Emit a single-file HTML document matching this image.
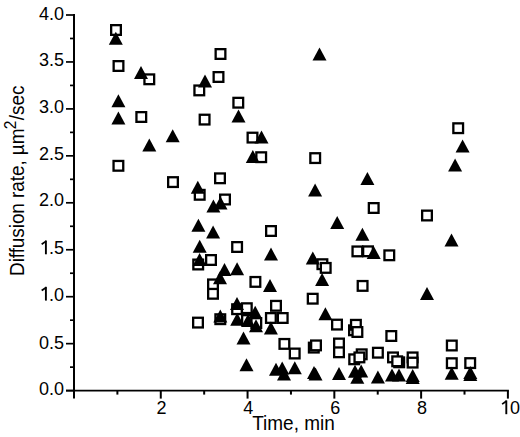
<!DOCTYPE html>
<html><head><meta charset="utf-8"><title>Diffusion rate vs time</title>
<style>
html,body{margin:0;padding:0;background:#fff;}
body{width:520px;height:437px;overflow:hidden;}
svg{display:block;}
text{font-family:"Liberation Sans",sans-serif;font-size:18px;fill:#000;}
.ax{stroke:#000;stroke-width:2.0;fill:none;stroke-linecap:butt;}
.ah{stroke:#000;stroke-width:1.7;fill:none;stroke-linecap:butt;}
.s{fill:#fff;stroke:#000;stroke-width:2.3;}
</style></head>
<body>
<svg width="520" height="437" viewBox="0 0 520 437">
<rect width="520" height="437" fill="#fff"/>
<g>
<path d="M74.0 14.10V398.60" class="ax"/>
<path d="M66.0 390.6H508.90" class="ah"/>
<path d="M66.00 15.00H74.0" class="ah"/>
<path d="M70.00 38.48H74.0" class="ah"/>
<path d="M66.00 61.95H74.0" class="ah"/>
<path d="M70.00 85.43H74.0" class="ah"/>
<path d="M66.00 108.90H74.0" class="ah"/>
<path d="M70.00 132.38H74.0" class="ah"/>
<path d="M66.00 155.85H74.0" class="ah"/>
<path d="M70.00 179.33H74.0" class="ah"/>
<path d="M66.00 202.80H74.0" class="ah"/>
<path d="M70.00 226.28H74.0" class="ah"/>
<path d="M66.00 249.75H74.0" class="ah"/>
<path d="M70.00 273.23H74.0" class="ah"/>
<path d="M66.00 296.70H74.0" class="ah"/>
<path d="M70.00 320.18H74.0" class="ah"/>
<path d="M66.00 343.65H74.0" class="ah"/>
<path d="M70.00 367.13H74.0" class="ah"/>
<path d="M66.00 390.60H74.0" class="ah"/>
<path d="M117.39 390.6V394.60" class="ax"/>
<path d="M160.78 390.6V398.60" class="ax"/>
<path d="M204.17 390.6V394.60" class="ax"/>
<path d="M247.56 390.6V398.60" class="ax"/>
<path d="M290.95 390.6V394.60" class="ax"/>
<path d="M334.34 390.6V398.60" class="ax"/>
<path d="M377.73 390.6V394.60" class="ax"/>
<path d="M421.12 390.6V398.60" class="ax"/>
<path d="M464.51 390.6V394.60" class="ax"/>
<path d="M507.90 390.6V398.60" class="ax"/>
</g>
<g>
<text transform="translate(64.00 20.20) scale(1 1.06)" text-anchor="end">4.0</text>
<text transform="translate(64.00 65.80) scale(1 1.06)" text-anchor="end">3.5</text>
<text transform="translate(64.00 112.60) scale(1 1.06)" text-anchor="end">3.0</text>
<text transform="translate(64.00 159.60) scale(1 1.06)" text-anchor="end">2.5</text>
<text transform="translate(64.00 206.30) scale(1 1.06)" text-anchor="end">2.0</text>
<text transform="translate(64.00 254.30) scale(1 1.06)" text-anchor="end">.5</text>
<path d="M44.95 240.52H46.85V254.30H44.95Z"/><path d="M46.20 241.12L41.70 244.22" stroke="#000" stroke-width="1.75" fill="none"/>
<text transform="translate(64.00 300.60) scale(1 1.06)" text-anchor="end">.0</text>
<path d="M44.95 286.82H46.85V300.60H44.95Z"/><path d="M46.20 287.42L41.70 290.52" stroke="#000" stroke-width="1.75" fill="none"/>
<text transform="translate(64.00 348.90) scale(1 1.06)" text-anchor="end">0.5</text>
<text transform="translate(64.00 394.90) scale(1 1.06)" text-anchor="end">0.0</text>
<text transform="translate(161.58 414.20) scale(1 1.06)" text-anchor="middle">2</text>
<text transform="translate(248.36 414.20) scale(1 1.06)" text-anchor="middle">4</text>
<text transform="translate(335.14 414.20) scale(1 1.06)" text-anchor="middle">6</text>
<text transform="translate(421.92 414.20) scale(1 1.06)" text-anchor="middle">8</text>
<text transform="translate(509.90 414.20) scale(1 1.06)" text-anchor="start">0</text>
<path d="M505.35 400.42H507.25V414.20H505.35Z"/><path d="M506.60 401.02L502.10 404.12" stroke="#000" stroke-width="1.75" fill="none"/>
<text transform="translate(293.50 429.80) scale(1 1.06)" text-anchor="middle" style="font-size:19px">Time, min</text>
<text transform="translate(24.3 180.7) rotate(-90) scale(1 1.06)" text-anchor="middle" style="font-size:19px"><tspan style="letter-spacing:-0.08px">Diffusion rate, &#181;m</tspan><tspan dy="-7.7" dx="-0.7" style="font-size:15.5px">2</tspan><tspan dy="7.7" dx="0.4">/sec</tspan></text>
</g>
<g fill="#000">
<rect x="111.15" y="25.15" width="9.7" height="9.7" class="s"/>
<rect x="113.65" y="61.15" width="9.7" height="9.7" class="s"/>
<rect x="144.45" y="74.45" width="9.7" height="9.7" class="s"/>
<rect x="136.45" y="112.15" width="9.7" height="9.7" class="s"/>
<rect x="113.55" y="160.95" width="9.7" height="9.7" class="s"/>
<rect x="168.15" y="177.25" width="9.7" height="9.7" class="s"/>
<rect x="215.65" y="49.15" width="9.7" height="9.7" class="s"/>
<rect x="213.65" y="72.15" width="9.7" height="9.7" class="s"/>
<rect x="194.45" y="85.55" width="9.7" height="9.7" class="s"/>
<rect x="233.45" y="97.85" width="9.7" height="9.7" class="s"/>
<rect x="199.75" y="114.75" width="9.7" height="9.7" class="s"/>
<rect x="247.65" y="132.75" width="9.7" height="9.7" class="s"/>
<rect x="256.35" y="152.35" width="9.7" height="9.7" class="s"/>
<rect x="215.15" y="173.45" width="9.7" height="9.7" class="s"/>
<rect x="194.85" y="189.95" width="9.7" height="9.7" class="s"/>
<rect x="220.15" y="194.65" width="9.7" height="9.7" class="s"/>
<rect x="232.25" y="242.15" width="9.7" height="9.7" class="s"/>
<rect x="206.15" y="255.15" width="9.7" height="9.7" class="s"/>
<rect x="193.35" y="259.65" width="9.7" height="9.7" class="s"/>
<rect x="208.15" y="279.55" width="9.7" height="9.7" class="s"/>
<rect x="208.15" y="288.95" width="9.7" height="9.7" class="s"/>
<rect x="193.15" y="317.75" width="9.7" height="9.7" class="s"/>
<rect x="215.45" y="314.35" width="9.7" height="9.7" class="s"/>
<rect x="266.15" y="226.15" width="9.7" height="9.7" class="s"/>
<rect x="250.55" y="277.05" width="9.7" height="9.7" class="s"/>
<rect x="232.25" y="304.35" width="9.7" height="9.7" class="s"/>
<rect x="241.95" y="303.35" width="9.7" height="9.7" class="s"/>
<rect x="242.15" y="315.15" width="9.7" height="9.7" class="s"/>
<rect x="251.45" y="318.15" width="9.7" height="9.7" class="s"/>
<rect x="271.15" y="300.95" width="9.7" height="9.7" class="s"/>
<rect x="266.05" y="313.15" width="9.7" height="9.7" class="s"/>
<rect x="277.85" y="313.15" width="9.7" height="9.7" class="s"/>
<rect x="453.35" y="123.35" width="9.7" height="9.7" class="s"/>
<rect x="310.35" y="153.25" width="9.7" height="9.7" class="s"/>
<rect x="368.85" y="203.15" width="9.7" height="9.7" class="s"/>
<rect x="422.15" y="210.65" width="9.7" height="9.7" class="s"/>
<rect x="363.15" y="246.45" width="9.7" height="9.7" class="s"/>
<rect x="384.45" y="250.45" width="9.7" height="9.7" class="s"/>
<rect x="352.55" y="246.55" width="9.7" height="9.7" class="s"/>
<rect x="317.55" y="259.35" width="9.7" height="9.7" class="s"/>
<rect x="320.85" y="263.05" width="9.7" height="9.7" class="s"/>
<rect x="357.75" y="281.05" width="9.7" height="9.7" class="s"/>
<rect x="307.85" y="293.85" width="9.7" height="9.7" class="s"/>
<rect x="332.15" y="319.75" width="9.7" height="9.7" class="s"/>
<rect x="349.15" y="325.45" width="9.7" height="9.7" class="s"/>
<rect x="351.05" y="319.95" width="9.7" height="9.7" class="s"/>
<rect x="352.55" y="327.15" width="9.7" height="9.7" class="s"/>
<rect x="279.55" y="339.05" width="9.7" height="9.7" class="s"/>
<rect x="289.85" y="348.65" width="9.7" height="9.7" class="s"/>
<rect x="308.95" y="342.75" width="9.7" height="9.7" class="s"/>
<rect x="311.15" y="340.55" width="9.7" height="9.7" class="s"/>
<rect x="334.15" y="338.65" width="9.7" height="9.7" class="s"/>
<rect x="334.15" y="347.45" width="9.7" height="9.7" class="s"/>
<rect x="356.85" y="349.45" width="9.7" height="9.7" class="s"/>
<rect x="349.35" y="354.45" width="9.7" height="9.7" class="s"/>
<rect x="354.55" y="352.55" width="9.7" height="9.7" class="s"/>
<rect x="386.45" y="331.15" width="9.7" height="9.7" class="s"/>
<rect x="373.05" y="347.85" width="9.7" height="9.7" class="s"/>
<rect x="388.15" y="352.55" width="9.7" height="9.7" class="s"/>
<rect x="394.35" y="357.45" width="9.7" height="9.7" class="s"/>
<rect x="392.35" y="356.45" width="9.7" height="9.7" class="s"/>
<rect x="407.75" y="352.55" width="9.7" height="9.7" class="s"/>
<rect x="407.75" y="357.75" width="9.7" height="9.7" class="s"/>
<rect x="446.95" y="340.65" width="9.7" height="9.7" class="s"/>
<rect x="446.95" y="358.35" width="9.7" height="9.7" class="s"/>
<rect x="465.35" y="358.25" width="9.7" height="9.7" class="s"/>
<path d="M108.80 44.70H122.80L115.80 31.70Z"/>
<path d="M134.00 79.00H148.00L141.00 66.00Z"/>
<path d="M111.40 107.30H125.40L118.40 94.30Z"/>
<path d="M111.40 124.50H125.40L118.40 111.50Z"/>
<path d="M165.70 142.30H179.70L172.70 129.30Z"/>
<path d="M142.30 151.50H156.30L149.30 138.50Z"/>
<path d="M198.00 87.40H212.00L205.00 74.40Z"/>
<path d="M231.50 122.40H245.50L238.50 109.40Z"/>
<path d="M254.50 143.50H268.50L261.50 130.50Z"/>
<path d="M245.80 162.90H259.80L252.80 149.90Z"/>
<path d="M190.80 193.70H204.80L197.80 180.70Z"/>
<path d="M206.40 212.50H220.40L213.40 199.50Z"/>
<path d="M213.50 209.50H227.50L220.50 196.50Z"/>
<path d="M191.40 231.80H205.40L198.40 218.80Z"/>
<path d="M206.10 238.50H220.10L213.10 225.50Z"/>
<path d="M192.70 252.80H206.70L199.70 239.80Z"/>
<path d="M192.60 266.00H206.60L199.60 253.00Z"/>
<path d="M217.50 276.00H231.50L224.50 263.00Z"/>
<path d="M213.00 284.30H227.00L220.00 271.30Z"/>
<path d="M213.30 322.50H227.30L220.30 309.50Z"/>
<path d="M264.00 260.60H278.00L271.00 247.60Z"/>
<path d="M230.10 275.20H244.10L237.10 262.20Z"/>
<path d="M263.00 292.00H277.00L270.00 279.00Z"/>
<path d="M230.00 310.00H244.00L237.00 297.00Z"/>
<path d="M248.20 318.80H262.20L255.20 305.80Z"/>
<path d="M230.20 325.70H244.20L237.20 312.70Z"/>
<path d="M241.00 327.00H255.00L248.00 314.00Z"/>
<path d="M249.00 332.20H263.00L256.00 319.20Z"/>
<path d="M455.60 152.60H469.60L462.60 139.60Z"/>
<path d="M448.10 171.40H462.10L455.10 158.40Z"/>
<path d="M308.10 196.60H322.10L315.10 183.60Z"/>
<path d="M360.40 185.10H374.40L367.40 172.10Z"/>
<path d="M444.50 246.40H458.50L451.50 233.40Z"/>
<path d="M355.40 240.70H369.40L362.40 227.70Z"/>
<path d="M366.70 259.00H380.70L373.70 246.00Z"/>
<path d="M330.20 228.90H344.20L337.20 215.90Z"/>
<path d="M305.80 264.40H319.80L312.80 251.40Z"/>
<path d="M315.10 286.10H329.10L322.10 273.10Z"/>
<path d="M318.40 320.30H332.40L325.40 307.30Z"/>
<path d="M236.50 344.40H250.50L243.50 331.40Z"/>
<path d="M239.50 371.20H253.50L246.50 358.20Z"/>
<path d="M269.00 375.80H283.00L276.00 362.80Z"/>
<path d="M275.20 374.50H289.20L282.20 361.50Z"/>
<path d="M277.00 380.50H291.00L284.00 367.50Z"/>
<path d="M287.80 374.30H301.80L294.80 361.30Z"/>
<path d="M307.00 379.00H321.00L314.00 366.00Z"/>
<path d="M308.50 380.50H322.50L315.50 367.50Z"/>
<path d="M332.00 380.00H346.00L339.00 367.00Z"/>
<path d="M348.00 377.70H362.00L355.00 364.70Z"/>
<path d="M354.20 377.40H368.20L361.20 364.40Z"/>
<path d="M350.30 383.80H364.30L357.30 370.80Z"/>
<path d="M370.90 383.50H384.90L377.90 370.50Z"/>
<path d="M385.00 381.50H399.00L392.00 368.50Z"/>
<path d="M392.00 381.50H406.00L399.00 368.50Z"/>
<path d="M405.70 382.00H419.70L412.70 369.00Z"/>
<path d="M405.70 384.00H419.70L412.70 371.00Z"/>
<path d="M444.70 379.80H458.70L451.70 366.80Z"/>
<path d="M463.30 379.00H477.30L470.30 366.00Z"/>
<path d="M463.30 381.00H477.30L470.30 368.00Z"/>
<path d="M420.00 300.00H434.00L427.00 287.00Z"/>
<path d="M263.90 334.60H277.90L270.90 321.60Z"/>
<path d="M312.50 60.50H326.50L319.50 47.50Z"/>
</g>
</svg>
</body></html>
